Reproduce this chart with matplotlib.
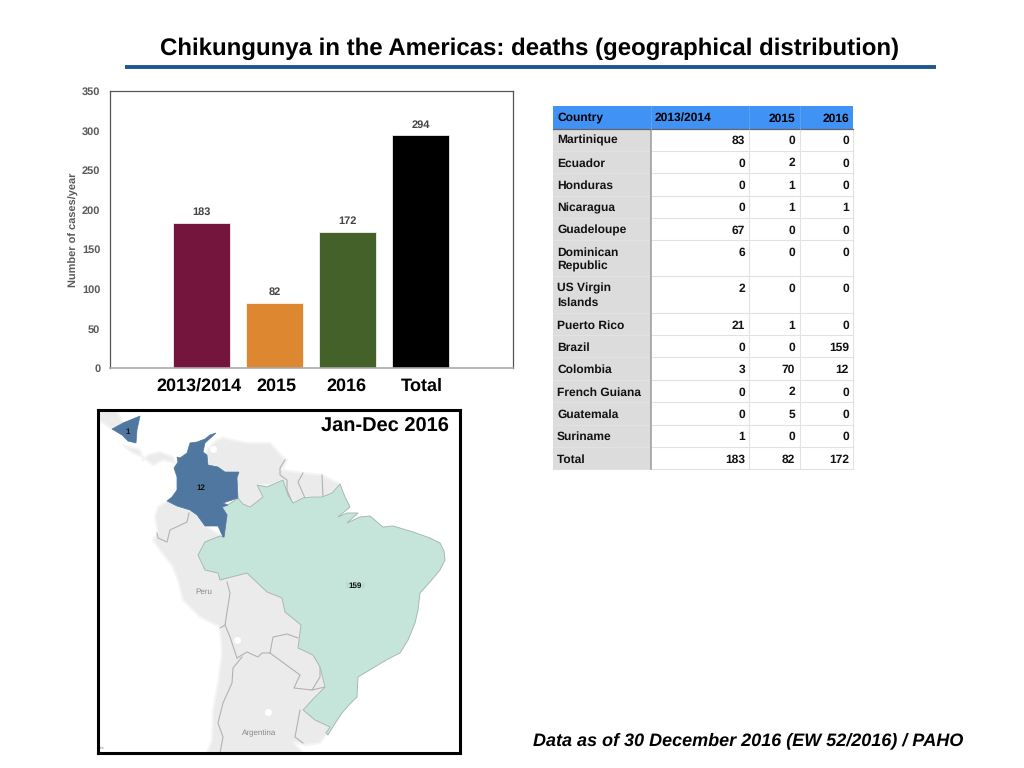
import matplotlib
matplotlib.use('Agg')
import matplotlib.pyplot as plt
from matplotlib.patches import Polygon, Rectangle

plt.rcParams['font.family'] = ['Liberation Sans', 'DejaVu Sans']
plt.rcParams['text.hinting'] = 'none'
plt.rcParams['text.hinting_factor'] = 1

W, H = 1024, 768

# bar chart data
categories = ['2013/2014', '2015', '2016', 'Total']
deaths = [183, 82, 172, 294]
bar_colors = ['#73153d', '#dd8731', '#436128', '#000000']
y_ticks = [0, 50, 100, 150, 200, 250, 300, 350]

# table data
table_header = ['Country', '2013/2014', '2015', '2016']
countries = ['Martinique', 'Ecuador', 'Honduras', 'Nicaragua', 'Guadeloupe',
             'Dominican\nRepublic', 'US Virgin\nIslands', 'Puerto Rico', 'Brazil',
             'Colombia', 'French Guiana', 'Guatemala', 'Suriname', 'Total']
col_2013 = [83, 0, 0, 0, 67, 6, 2, 21, 0, 3, 0, 0, 1, 183]
col_2015 = [0, 2, 1, 1, 0, 0, 0, 1, 0, 70, 2, 5, 0, 82]
col_2016 = [0, 0, 0, 1, 0, 0, 0, 0, 159, 12, 0, 0, 0, 172]
col_edges = [553, 651, 749, 799.5, 853]
row_edges = [106, 128.5, 151, 173.3, 195.7, 218, 240.3, 276.3, 313.3, 335.3,
             357.3, 380, 402.3, 424.7, 447.3, 469.3]

# map outlines in pixels
nicaragua = [(112, 429), (123, 423), (140, 416), (137, 430), (136, 443), (128, 441), (122, 435)]
honduras = [(98, 411), (117, 411), (123, 423), (112, 429), (103, 423), (98, 420)]
panama = [(123, 445), (140, 450), (143, 460), (148, 455), (160, 452), (173, 457), (175, 463),
          (163, 460), (153, 465), (143, 457), (133, 453)]
colombia = [(216, 433), (210, 435), (205, 439), (197, 442), (190, 443), (187, 453), (180, 458),
            (177, 457), (178, 462), (174, 468), (177, 477), (177, 490), (172, 497), (167, 501),
            (177, 506), (190, 510), (197, 515), (205, 526), (218, 526), (223, 537), (224, 537),
            (227, 515), (222, 507), (228, 505), (223, 503), (238, 498), (237, 478), (239, 472),
            (225, 472), (218, 467), (208, 465), (207, 455), (203, 452), (205, 443)]
venezuela_guianas = [(207, 450), (217, 440), (223, 438), (247, 443), (270, 443), (283, 457),
                     (287, 460), (282, 470), (303, 473), (322, 475), (340, 484), (332, 493),
                     (322, 497), (312, 497), (303, 498), (293, 503), (288, 495), (283, 480),
                     (270, 485), (257, 485), (263, 497), (250, 507), (243, 504), (238, 498),
                     (237, 478), (239, 472), (225, 472), (218, 467), (208, 465), (207, 455)]
southwest = [(167, 501), (158, 507), (155, 517), (158, 533), (153, 540), (160, 550), (173, 567),
             (178, 580), (183, 600), (200, 617), (220, 627), (222, 653), (218, 683), (213, 710),
             (212, 740), (207, 753), (303, 753), (293, 742), (305, 745), (320, 743), (326, 735),
             (330, 727), (303, 710), (325, 687), (320, 667), (330, 620), (260, 560), (224, 537),
             (205, 526), (197, 515), (190, 510)]
brazil = [(238, 498), (243, 504), (250, 507), (263, 497), (257, 485), (267, 487), (283, 480),
          (288, 495), (293, 503), (303, 498), (312, 497), (322, 497), (332, 493), (340, 484),
          (345, 497), (350, 507), (338, 517), (347, 513), (358, 513), (347, 523), (360, 517),
          (370, 516), (383, 527), (393, 526), (413, 532), (430, 538), (440, 543), (444, 551),
          (445, 560), (440, 570), (430, 582), (420, 593), (418, 610), (415, 623), (408, 640),
          (400, 653), (388, 659), (378, 665), (358, 677), (357, 697), (348, 706), (342, 713),
          (334, 725), (328, 735), (326, 733), (330, 727), (315, 720), (303, 710), (314, 698),
          (325, 687), (320, 667), (313, 655), (298, 648), (301, 625), (285, 612), (282, 598),
          (267, 592), (247, 573), (220, 580), (218, 573), (205, 570), (198, 555), (205, 542),
          (220, 536), (224, 537), (227, 515), (222, 507), (228, 505)]
border_lines = [
    [(285, 460), (280, 468), (280, 475), (287, 480), (287, 490), (292, 502)],
    [(303, 473), (298, 482), (305, 498)],
    [(322, 475), (323, 497)],
    [(189, 513), (187, 522), (170, 530), (167, 542), (158, 538), (157, 533)],
    [(227, 582), (230, 593), (225, 625), (230, 637), (237, 658)],
    [(225, 625), (220, 628)],
    [(237, 658), (247, 652), (258, 657), (262, 653), (270, 653)],
    [(270, 653), (273, 637), (287, 634), (298, 638)],
    [(242, 657), (233, 668), (232, 683), (223, 703), (218, 723), (223, 737), (220, 753)],
    [(270, 653), (300, 675), (294, 688), (312, 690), (320, 677), (320, 667)],
    [(312, 690), (325, 687)],
    [(300, 710), (295, 737), (303, 743)],
]
lakes = [(213, 449, 5), (237, 640, 5), (268, 712, 5)]
map_labels = [('Peru', 204, 592, '#888888', 'normal'), ('Argentina', 259, 733, '#888888', 'normal'),
              ('12', 200.5, 488, '#111111', 'bold'), ('1', 128, 432, '#111111', 'bold')]

fig = plt.figure(figsize=(W / 100, H / 100), dpi=100, facecolor='white')

page = fig.add_axes([0, 0, 1, 1])
page.set_xlim(0, W)
page.set_ylim(H, 0)
page.axis('off')

page.text(530, 49, 'Chikungunya in the Americas: deaths (geographical distribution)',
          ha='center', va='center', fontsize=17.3, fontweight='bold', color='black')
page.plot([125, 936], [66.5, 66.5], color='#1f5592', lw=2.8, solid_capstyle='butt')
page.text(748, 741, 'Data as of 30 December 2016 (EW 52/2016) / PAHO', ha='center', va='center',
          fontsize=13, fontweight='bold', fontstyle='italic', color='black')

# bars
ax = fig.add_axes([110 / W, 1 - 368 / H, 403 / W, 277 / H])
xpos = list(range(len(categories)))
ax.bar(xpos, deaths, width=0.78, color=bar_colors, edgecolor='white', linewidth=0.5)
ax.set_xlim(-1.256, 4.264)
ax.set_ylim(0, 350)
ax.set_yticks(y_ticks)
ax.set_xticks([])
ax.tick_params(axis='y', length=0, pad=7, labelsize=8, labelcolor='#595959')
for lab in ax.get_yticklabels():
    lab.set_fontweight('bold')
for s in ax.spines.values():
    s.set_color('#555555')
    s.set_linewidth(0.9)
ax.spines['bottom'].set_color('#aaaaaa')
ax.spines['bottom'].set_linewidth(1.2)
ax.set_ylabel('Number of cases/year', fontsize=7.7, fontweight='bold', color='#595959', labelpad=2)
for x, v in zip(xpos, deaths):
    ax.annotate(str(v), (x, v), xytext=(0, 4), textcoords='offset points', ha='center',
                va='bottom', fontsize=8, fontweight='bold', color='#444444')
for name, lx in zip(categories, [198.5, 276, 346, 421.5]):
    page.text(lx, 386, name, ha='center', va='center', fontsize=12.9, fontweight='bold', color='black')

# table
page.add_patch(Rectangle((col_edges[0], row_edges[0]), col_edges[-1] - col_edges[0],
                         row_edges[1] - row_edges[0], fc='#4092f5', ec='none'))
page.add_patch(Rectangle((col_edges[0], row_edges[1]), col_edges[1] - col_edges[0],
                         row_edges[-1] - row_edges[1], fc='#dcdcdc', ec='none'))
for y in row_edges[2:]:
    page.plot([col_edges[0], col_edges[-1]], [y, y], color='#e2e2e2', lw=0.8)
for x in col_edges[2:]:
    page.plot([x, x], [row_edges[1], row_edges[-1]], color='#e2e2e2', lw=0.8)
page.plot([col_edges[1], col_edges[1]], [row_edges[1], row_edges[-1]], color='#9a9a9a', lw=1.1)
page.plot([col_edges[0], col_edges[-1]], [row_edges[1], row_edges[1]], color='#666666', lw=0.9)
for x in col_edges[1:-1]:
    page.plot([x, x], [row_edges[0], row_edges[1]], color='#5aa2f7', lw=0.7)

tbl_font = 8.5
page.text(557, 117.5, table_header[0], ha='left', va='center', fontsize=tbl_font, fontweight='bold')
page.text(655, 117.5, table_header[1], ha='left', va='center', fontsize=tbl_font, fontweight='bold')
page.text(795, 118.5, table_header[2], ha='right', va='center', fontsize=tbl_font, fontweight='bold')
page.text(849, 118.5, table_header[3], ha='right', va='center', fontsize=tbl_font, fontweight='bold')
for i, name in enumerate(countries):
    y = row_edges[i + 1] + 12.3
    for j, part in enumerate(name.split('\n')):
        page.text(557, y + j * 14, part, ha='left', va='center', fontsize=tbl_font,
                  fontweight='bold', color='#111111')
    page.text(745, y, str(col_2013[i]), ha='right', va='center', fontsize=tbl_font, fontweight='bold', color='#111111')
    page.text(795, y, str(col_2015[i]), ha='right', va='center', fontsize=tbl_font, fontweight='bold', color='#111111')
    page.text(849, y, str(col_2016[i]), ha='right', va='center', fontsize=tbl_font, fontweight='bold', color='#111111')

# map panel, its axes run in picture pixels
m = fig.add_axes([98 / W, 1 - 753 / H, 362 / W, 343 / H])
m.set_xlim(98, 460)
m.set_ylim(753, 410)
m.set_xticks([])
m.set_yticks([])
for s in m.spines.values():
    s.set_linewidth(2.2)
    s.set_color('black')
    s.set_zorder(10)

for shape in [honduras, panama, venezuela_guianas, southwest]:
    m.add_patch(Polygon(shape, closed=True, fc='#ebebeb', ec='#f4f4f4', lw=1.5, zorder=1))
for line in border_lines:
    xs, ys = zip(*line)
    m.plot(xs, ys, color='#b2b2b2', lw=0.8, zorder=2)
for cx, cy, r in lakes:
    m.plot(cx, cy, 'o', ms=r, color='white', mec='none', zorder=2)
m.add_patch(Polygon(brazil, closed=True, fc='#c5e5da', ec='#a9b8b2', lw=0.7, zorder=3))
m.add_patch(Polygon(colombia, closed=True, fc='#4f779f', ec='#4f779f', lw=0.5, zorder=4))
m.add_patch(Polygon(nicaragua, closed=True, fc='#4f779f', ec='#4f779f', lw=0.5, zorder=4))

for txt, tx, ty, col, wt in map_labels:
    size = 5.6
    m.text(tx, ty, txt, ha='center', va='center', fontsize=size, color=col, fontweight=wt, zorder=5)
m.text(355, 586, 'Brazil', ha='center', va='center', fontsize=6, color='#afd0c5', zorder=5)
m.text(355.5, 586, '159', ha='center', va='center', fontsize=5.6, color='#111111', fontweight='bold', zorder=6)
m.text(102, 748, 'ors', ha='center', va='center', fontsize=3.2, color='#777777', zorder=5)
m.text(449, 427, 'Jan-Dec 2016', ha='right', va='center', fontsize=14.2, fontweight='bold', color='black', zorder=6)

fig.savefig('out.png', dpi=100)
